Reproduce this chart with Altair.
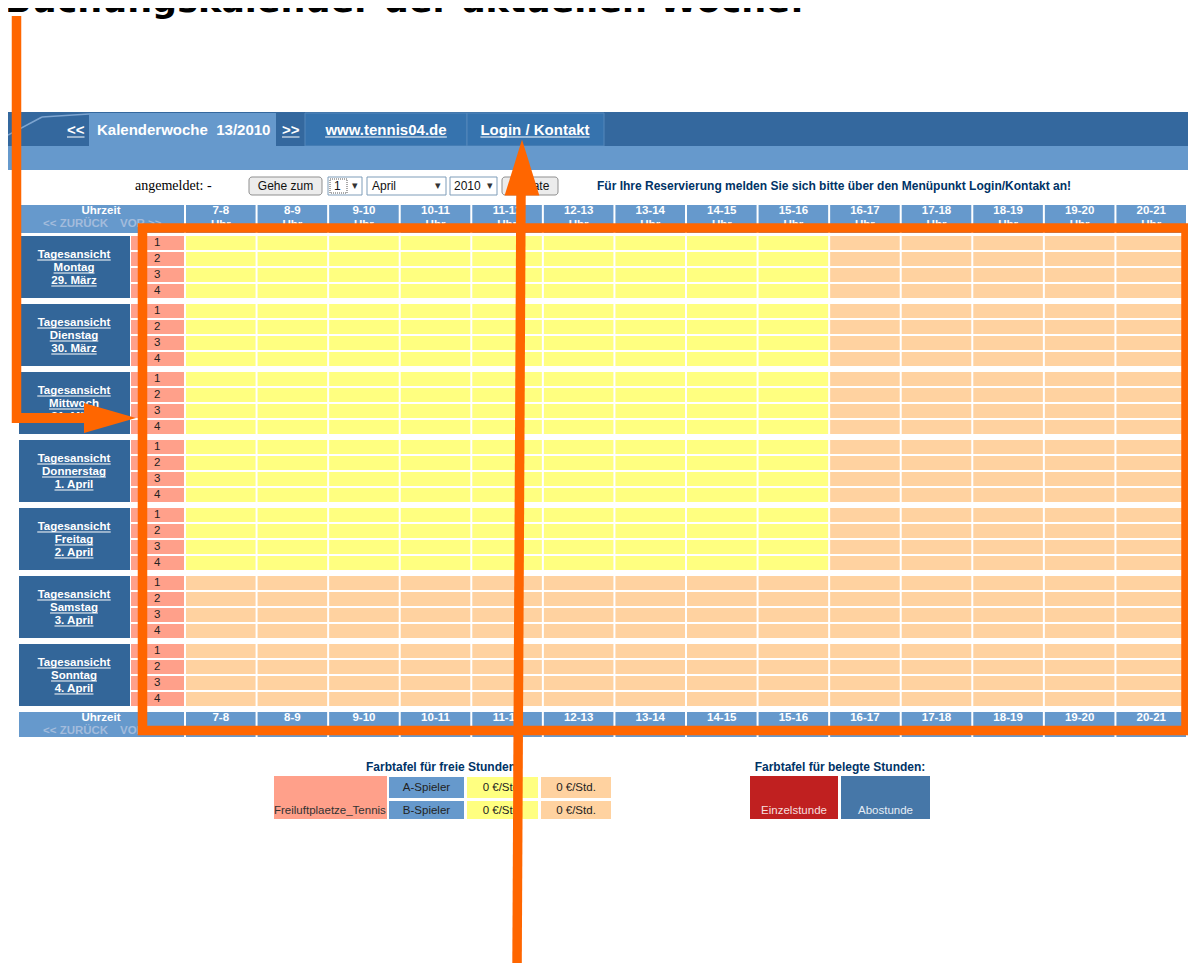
import altair as alt
import pandas as pd

# ---------------- data ----------------
hours = ["7-8", "8-9", "9-10", "10-11", "11-12", "12-13", "13-14",
         "14-15", "15-16", "16-17", "17-18", "18-19", "19-20", "20-21"]
days = ["Montag", "Dienstag", "Mittwoch", "Donnerstag", "Freitag", "Samstag", "Sonntag"]
dates = ["29. März", "30. März", "31. März", "1. April", "2. April", "3. April", "4. April"]
courts = ["1", "2", "3", "4"]
workdays = ["Montag", "Dienstag", "Mittwoch", "Donnerstag", "Freitag"]
day_hours = ["7-8", "8-9", "9-10", "10-11", "11-12", "12-13", "13-14", "14-15", "15-16"]
tarifs = ["Tagtarif", "Abendtarif"]
tarif_colors = ["#ffff80", "#ffd2a0"]
players = ["A-Spieler", "B-Spieler"]
price_day = ["0 €/Std.", "0 €/Std."]
price_evening = ["0 €/Std.", "0 €/Std."]
nav_labels = ["<<", "Kalenderwoche\u00a0\u00a013/2010", ">>", "www.tennis04.de", "Login / Kontakt"]
form_labels = ["angemeldet: -", "Gehe zum", "1", "April", "2010", "Update"]
hint = "Für Ihre Reservierung melden Sie sich bitte über den Menüpunkt Login/Kontakt an!"
title = "Buchungskalender der aktuellen Woche:"

cells = pd.DataFrame([
    {"tag": d, "platz": c, "stunde": h,
     "tarif": tarifs[0] if (d in workdays and h in day_hours) else tarifs[1]}
    for d in days for c in courts for h in hours
])
court_rows = pd.DataFrame([{"tag": d, "platz": c} for d in days for c in courts])
hour_df = pd.DataFrame({"stunde": hours})

# Arial-bold advance widths (per 1000 em) for underline lengths
AW = {" ": 278, "\u00a0": 278, ".": 278, "/": 278, "-": 333, "<": 584, ">": 584, "ä": 556,
      "A": 722, "D": 722, "F": 611, "K": 722, "L": 611, "M": 833, "S": 667, "T": 611,
      "a": 556, "c": 556, "d": 611, "e": 556, "g": 611, "h": 611, "i": 278, "k": 556,
      "l": 278, "m": 889, "n": 611, "o": 611, "p": 611, "r": 389, "s": 556, "t": 333,
      "u": 611, "w": 778, "z": 500}


def tw(s, size):
    return sum(AW.get(ch, 556) for ch in s) * size / 1000.0


SANS = "Liberation Sans"
SERIF = "Liberation Serif"
ORANGE = "#ff6600"
DARK = "#336699"
LIGHT = "#6699cc"
NAVY = "#003366"
CX = 74  # centre of day label column (page px)


def P(v):
    return v - 8


one = pd.DataFrame({"k": [0]})


def box(x1, y1, x2, y2, fill, stroke=None, sw=1, r=0, fo=1, dash=None):
    kw = dict(fill=fill, fillOpacity=fo)
    if stroke:
        kw.update(stroke=stroke, strokeWidth=sw)
    if r:
        kw["cornerRadius"] = r
    if dash:
        kw["strokeDash"] = dash
    return alt.Chart(one).mark_rect(**kw).encode(
        x=alt.value(P(x1)), x2=alt.value(P(x2)), y=alt.value(P(y1)), y2=alt.value(P(y2)))


def label(x, y, text, size=11, color="#000000", weight="normal", align="left",
          font=SANS, baseline="middle"):
    return alt.Chart(one).mark_text(
        text=text, fontSize=size, color=color, fontWeight=weight, align=align,
        baseline=baseline, font=font).encode(x=alt.value(P(x)), y=alt.value(P(y)))


def line(x1, y1, x2, y2, color, sw):
    return alt.Chart(one).mark_rule(color=color, strokeWidth=sw).encode(
        x=alt.value(P(x1)), y=alt.value(P(y1)), x2=alt.value(P(x2)), y2=alt.value(P(y2)))


def ulabel(x, y, text, size, color="#ffffff", align="left", uy=7):
    w = tw(text, size)
    x0 = x if align == "left" else x - w / 2
    return [label(x, y, text, size=size, color=color, weight="bold", align=align),
            line(x0, y + uy, x0 + w, y + uy, color, 1)]


def arrowhead(cx, cy, path, size):
    return alt.Chart(one).mark_point(
        shape=path, size=size, filled=True, fill=ORANGE, opacity=1, strokeWidth=0).encode(
        x=alt.value(P(cx)), y=alt.value(P(cy)))


# ---------------- scales ----------------
XS = alt.Scale(domain=hours, range=[P(186), P(1186)], paddingInner=0.028, paddingOuter=0)
YS = alt.Scale(domain=days, range=[P(236), P(706)], paddingInner=0.088, paddingOuter=0)
OS = alt.Scale(domain=courts, paddingInner=0.125, paddingOuter=0)
X = alt.X("stunde:N", scale=XS, axis=None)
Y = alt.Y("tag:N", scale=YS, axis=None)
YO = alt.YOffset("platz:N", scale=OS)

layers = []

# ---------------- title ----------------
layers.append(label(5, 12, title, size=35, weight="bold", font="DejaVu Sans",
                    baseline="alphabetic", color="#000000"))

# ---------------- navigation bar ----------------
layers += [
    box(5, 112, 1192, 146, "#34689e"),
    line(8, 135, 42, 117, "#7ea5d0", 1.5),
    line(42, 117, 89, 114, "#7ea5d0", 1.5),
    box(305, 113, 467, 146, "#3673ae", stroke="#5588bb", sw=1),
    box(467, 113, 604, 146, "#3673ae", stroke="#5588bb", sw=1),
    box(89, 113, 276, 146, LIGHT),
    box(5, 146, 1192, 170, LIGHT),
]
layers += ulabel(67, 130, nav_labels[0], 15)
layers.append(label(97, 130, nav_labels[1], size=15, color="#ffffff", weight="bold"))
layers += ulabel(282, 130, nav_labels[2], 15)
layers += ulabel(386, 130, nav_labels[3], 15, align="center")
layers += ulabel(535, 130, nav_labels[4], 15, align="center")

# ---------------- form row ----------------
layers += [
    label(135, 186, form_labels[0], size=14, font=SERIF),
    box(249, 177, 322, 195, "#ececec", stroke="#8f8f8f", r=3),
    label(285.5, 186, form_labels[1], size=12, align="center", color="#111111"),
    box(328, 177, 362, 195, "#ffffff", stroke="#7f9db9"),
    box(330, 179, 347, 193, "#ffffff", stroke="#555555", dash=[1, 1]),
    label(334, 186, form_labels[2], size=12, color="#111111"),
    label(355, 186, "▾", size=11, align="center", color="#333333"),
    box(367, 177, 446, 195, "#ffffff", stroke="#7f9db9"),
    label(372, 186, form_labels[3], size=12, color="#111111"),
    label(438, 186, "▾", size=11, align="center", color="#333333"),
    box(450, 177, 497, 195, "#ffffff", stroke="#7f9db9"),
    label(454, 186, form_labels[4], size=12, color="#111111"),
    label(490, 186, "▾", size=11, align="center", color="#333333"),
    box(502, 177, 558, 195, "#ececec", stroke="#8f8f8f", r=3),
    label(530, 186, form_labels[5], size=12, align="center", color="#111111"),
    label(597, 186, hint, size=12, weight="bold", color=NAVY),
]

# ---------------- header / footer rows ----------------
for (y1, y2, ty) in [(205, 233, 211), (712, 737, 718)]:
    layers.append(box(19, y1, 184, y2, LIGHT))
    layers.append(label(101, ty, "Uhrzeit", size=11.5, weight="bold", color="#ffffff", align="center"))
    layers.append(label(43, ty + 13, "<< ZURÜCK", size=11.5, weight="bold", color="#a3bcdc"))
    layers.append(label(120, ty + 13, "VOR >>", size=11.5, weight="bold", color="#a3bcdc"))
    base = alt.Chart(hour_df)
    layers.append(base.mark_rect(fill=LIGHT).encode(x=X, y=alt.value(P(y1)), y2=alt.value(P(y2))))
    layers.append(base.mark_text(fontSize=11.5, fontWeight="bold", color="#ffffff", font=SANS,
                                 baseline="middle").encode(x=X, y=alt.value(P(ty)), text="stunde:N"))
    layers.append(base.mark_text(text="Uhr", fontSize=11.5, fontWeight="bold", color="#ffffff",
                                 font=SANS, baseline="middle").encode(x=X, y=alt.value(P(ty + 14))))

# ---------------- day label column ----------------
day_df = pd.DataFrame({"tag": days, "datum": dates})
ul_rows = []
for d, dt in zip(days, dates):
    for txt, off in [("Tagesansicht", -7), (d, 6), (dt, 19)]:
        w = tw(txt, 11.5)
        ul_rows.append({"tag": d, "off": off, "a": P(CX - w / 2), "b": P(CX + w / 2)})
ul_df = pd.DataFrame(ul_rows)

dbase = alt.Chart(day_df)
layers.append(dbase.mark_rect(fill=DARK).encode(x=alt.value(P(19)), x2=alt.value(P(130)), y=Y))
layers.append(dbase.mark_text(text="Tagesansicht", fontSize=11.5, fontWeight="bold", color="#ffffff",
                              font=SANS, dy=-12, baseline="middle").encode(x=alt.value(P(CX)), y=Y))
layers.append(dbase.mark_text(fontSize=11.5, fontWeight="bold", color="#ffffff", font=SANS,
                              dy=1, baseline="middle").encode(x=alt.value(P(CX)), y=Y, text="tag:N"))
layers.append(dbase.mark_text(fontSize=11.5, fontWeight="bold", color="#ffffff", font=SANS,
                              dy=14, baseline="middle").encode(x=alt.value(P(CX)), y=Y, text="datum:N"))
for off in [-7, 6, 19]:
    layers.append(alt.Chart(ul_df[ul_df["off"] == off]).mark_rule(
        color="#ffffff", strokeWidth=1, yOffset=off).encode(
        x=alt.X("a:Q", scale=None, axis=None), x2="b:Q", y=Y))

# ---------------- court column ----------------
cbase = alt.Chart(court_rows)
layers.append(cbase.mark_rect(fill="#ffa08a").encode(
    x=alt.value(P(131)), x2=alt.value(P(184)), y=Y, yOffset=YO))
layers.append(cbase.mark_text(fontSize=11.5, color="#222222", font=SANS, align="left",
                              baseline="middle").encode(
    x=alt.value(P(154)), y=Y, yOffset=YO, text="platz:N"))

# ---------------- booking cells ----------------
layers.append(alt.Chart(cells).mark_rect().encode(
    x=X, y=Y, yOffset=YO,
    color=alt.Color("tarif:N", scale=alt.Scale(domain=tarifs, range=tarif_colors), legend=None),
    tooltip=["tag:N", "platz:N", "stunde:N"]))

# ---------------- legends ----------------
layers += [
    label(443, 767, "Farbtafel für freie Stunden:", size=12, weight="bold", color=NAVY, align="center"),
    box(274, 776, 387, 819, "#ffa08a"),
    label(274, 811, "Freiluftplaetze_Tennis", size=11.5, color="#333333"),
    box(389, 777, 464, 798, LIGHT), box(389, 801, 464, 819, LIGHT),
    label(426.5, 788, players[0], size=11.5, align="center", color="#222222"),
    label(426.5, 811, players[1], size=11.5, align="center", color="#222222"),
    box(467, 777, 538, 798, tarif_colors[0]), box(467, 801, 538, 819, tarif_colors[0]),
    label(502.5, 788, price_day[0], size=11.5, align="center", color="#222222"),
    label(502.5, 811, price_day[1], size=11.5, align="center", color="#222222"),
    box(541, 777, 611, 798, tarif_colors[1]), box(541, 801, 611, 819, tarif_colors[1]),
    label(576, 788, price_evening[0], size=11.5, align="center", color="#222222"),
    label(576, 811, price_evening[1], size=11.5, align="center", color="#222222"),
    label(840, 767, "Farbtafel für belegte Stunden:", size=12, weight="bold", color=NAVY, align="center"),
    box(750, 776, 838, 819, "#c02020"),
    label(794, 811, "Einzelstunde", size=11.5, align="center", color="#f6dede"),
    box(841, 776, 930, 819, "#4677a8"),
    label(885.5, 811, "Abostunde", size=11.5, align="center", color="#e4ecf5"),
]

# ---------------- orange annotations ----------------
layers += [
    line(16.5, 16, 16.5, 423, ORANGE, 9.5),
    line(12, 418, 88, 418, ORANGE, 10),
    arrowhead(110, 418, "M-1,-0.577L1,0L-1,0.577Z", 2704),
    alt.Chart(one).mark_rect(fillOpacity=0, stroke=ORANGE, strokeWidth=9.5).encode(
        x=alt.value(P(142.5)), x2=alt.value(P(1186)), y=alt.value(P(228)), y2=alt.value(P(730.5))),
    line(517, 970, 521, 192, ORANGE, 9.5),
    arrowhead(522, 167.5, "M0,-1L0.62,1L-0.62,1Z", 3136),
]

chart = alt.layer(*layers).properties(
    width=1180, height=955, padding=0, autosize="none", background="#ffffff"
).configure_view(stroke=None)

chart.save("out.html", embed_options={"renderer": "svg", "actions": False})
